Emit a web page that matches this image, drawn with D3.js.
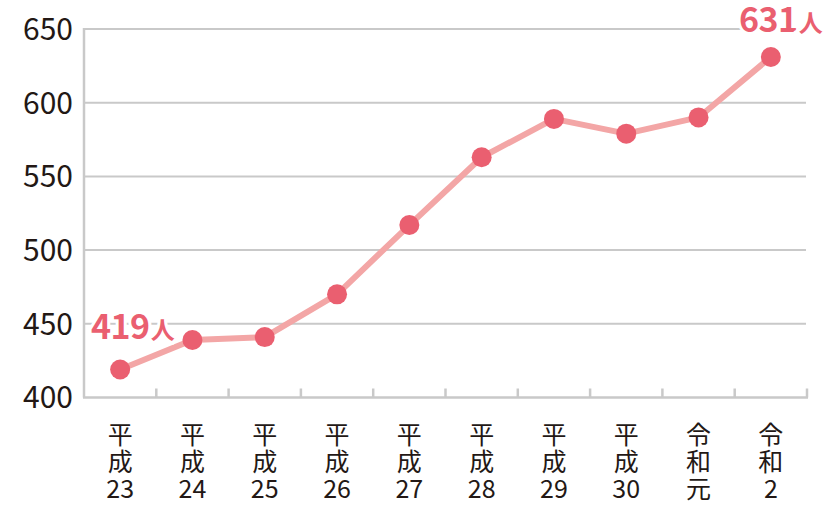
<!DOCTYPE html>
<html>
<head>
<meta charset="utf-8">
<script src="https://cdn.jsdelivr.net/npm/d3@7"></script>
<style>
  body { margin: 0; background: #fff; }
  svg { display: block; font-family: "Noto Sans CJK JP", "Noto Sans", sans-serif; }
</style>
</head>
<body>
<div id="chart"></div>
<script>
// Data
const categories = [
    ['平', '成', '23'], ['平', '成', '24'], ['平', '成', '25'], ['平', '成', '26'],
    ['平', '成', '27'], ['平', '成', '28'], ['平', '成', '29'], ['平', '成', '30'],
    ['令', '和', '元'], ['令', '和', '2']
];
const values = [419, 439, 441, 470, 517, 563, 589, 579, 590, 631];
const yTicks = [400, 450, 500, 550, 600, 650];
const unit = '人';

const width = 830, height = 505;
const margin = { top: 29, right: 23, bottom: 108, left: 84 };

const svg = d3.select('#chart')
    .append('svg')
    .attr('width', width)
    .attr('height', height);

const x = d3.scaleBand()
    .domain(d3.range(categories.length))
    .range([margin.left, width - margin.right]);

const y = d3.scaleLinear()
    .domain([400, 650])
    .range([height - margin.bottom + 0.5, margin.top]);

const gridColor = '#c9c9c9';

// Horizontal grid lines
svg.append('g')
    .selectAll('line')
    .data(yTicks.filter(d => d > 400))
    .join('line')
    .attr('x1', margin.left)
    .attr('x2', width - margin.right - 1)
    .attr('y1', d => y(d))
    .attr('y2', d => y(d))
    .attr('stroke', gridColor)
    .attr('stroke-width', 2);

// Y axis line
svg.append('line')
    .attr('x1', margin.left).attr('x2', margin.left)
    .attr('y1', y(650) - 1).attr('y2', y(400))
    .attr('stroke', gridColor)
    .attr('stroke-width', 2.5);

// X axis line
svg.append('line')
    .attr('x1', margin.left - 1).attr('x2', width - margin.right + 1)
    .attr('y1', y(400)).attr('y2', y(400))
    .attr('stroke', gridColor)
    .attr('stroke-width', 2.5);

// X ticks at band boundaries
svg.append('g')
    .selectAll('line')
    .data(d3.range(1, categories.length + 1))
    .join('line')
    .attr('x1', i => x.range()[0] + i * x.bandwidth())
    .attr('x2', i => x.range()[0] + i * x.bandwidth())
    .attr('y1', y(400))
    .attr('y2', y(400) - 9)
    .attr('stroke', gridColor)
    .attr('stroke-width', 2.5);

// Y tick labels
svg.append('g')
    .selectAll('text')
    .data(yTicks)
    .join('text')
    .attr('x', 73)
    .attr('y', d => y(d))
    .attr('dy', '0.36em')
    .attr('text-anchor', 'end')
    .attr('font-size', 30)
    .attr('fill', '#231815')
    .text(d => d);

// X tick labels (vertical stacks, one text per character row)
const rows = categories.flatMap((d, i) => d.map((c, j) => ({ c, i, j })));

svg.append('g')
    .selectAll('text')
    .data(rows)
    .join('text')
    .attr('text-anchor', 'middle')
    .attr('font-size', 25)
    .attr('fill', '#231815')
    .attr('x', d => x(d.i) + x.bandwidth() / 2)
    .attr('y', d => 444 + d.j * 27)
    .text(d => d.c);

// Line
const line = d3.line()
    .x((d, i) => x(i) + x.bandwidth() / 2)
    .y(d => y(d));

svg.append('path')
    .datum(values)
    .attr('d', line)
    .attr('fill', 'none')
    .attr('stroke', '#f3a6a6')
    .attr('stroke-width', 6)
    .attr('stroke-linejoin', 'round');

// Dots
svg.append('g')
    .selectAll('circle')
    .data(values)
    .join('circle')
    .attr('cx', (d, i) => x(i) + x.bandwidth() / 2)
    .attr('cy', d => y(d))
    .attr('r', 10)
    .attr('fill', '#ea5f70');

// Value labels for first and last
const labelColor = '#ea5f70';
const labels = [
    { v: values[0], x: 91, y: 339 },
    { v: values[values.length - 1], x: 739, y: 32 }
];

const lt = svg.append('g')
    .selectAll('text')
    .data(labels)
    .join('text')
    .attr('x', d => d.x)
    .attr('y', d => d.y)
    .attr('fill', labelColor)
    .attr('font-weight', 'bold')
    .attr('stroke', '#fff')
    .attr('stroke-width', 6)
    .attr('paint-order', 'stroke');

lt.append('tspan')
    .attr('font-size', 34)
    .attr('letter-spacing', -0.5)
    .text(d => d.v);

lt.append('tspan')
    .attr('font-size', 24)
    .attr('dx', 1)
    .text(unit);
</script>
</body>
</html>
